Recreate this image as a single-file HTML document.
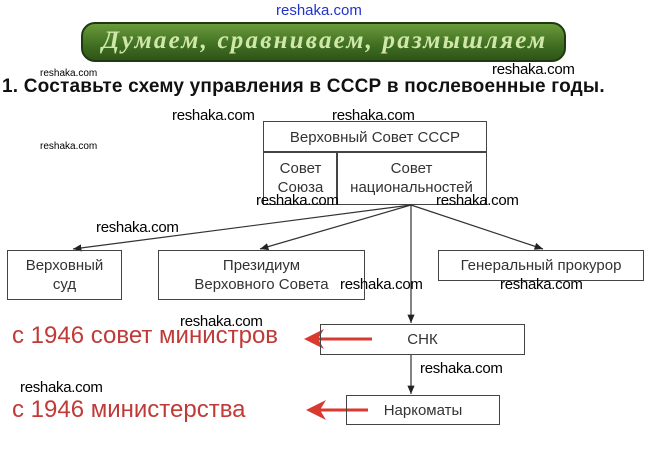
<!DOCTYPE html>
<html><head><meta charset="utf-8"><style>
html,body{margin:0;padding:0;background:#fff;}
body{width:648px;height:458px;position:relative;overflow:hidden;font-family:"Liberation Sans","DejaVu Sans",sans-serif;}
.a{position:absolute;white-space:nowrap;}
.w{font-size:15px;color:#000;font-family:"Liberation Sans",sans-serif;letter-spacing:-0.3px;}
.ws{font-size:10px;color:#000;}
.box{position:absolute;border:1.5px solid #444;box-sizing:border-box;color:#333;font-size:15px;text-align:center;line-height:19px;display:flex;align-items:center;justify-content:center;}
.red{color:#c03a38;font-size:24px;}
</style></head><body>
<div class="a" style="left:276px;top:2px;font-size:15px;color:#2233cc;">reshaka.com</div>
<div class="a" style="left:81px;top:22px;width:485px;height:40px;border-radius:14px;background:linear-gradient(#6a9a3a,#3f6e22 60%,#2f5418);border:2px solid #1e3a10;box-sizing:border-box;"></div>
<div class="a" style="left:102px;top:27px;font-family:'Liberation Serif',serif;font-style:italic;font-weight:bold;font-size:25px;color:#cfe8a8;letter-spacing:2.2px;">Думаем, сравниваем, размышляем</div>
<div class="a ws" style="left:40px;top:68px;">reshaka.com</div>
<div class="a w" style="left:492px;top:61px;">reshaka.com</div>
<div class="a" style="left:2px;top:76px;font-weight:bold;font-size:19px;color:#111;letter-spacing:0.2px;">1. Составьте схему управления в СССР в послевоенные годы.</div>
<div class="a w" style="left:172px;top:107px;">reshaka.com</div>
<div class="a w" style="left:332px;top:107px;">reshaka.com</div>
<div class="a ws" style="left:40px;top:141px;">reshaka.com</div>

<div class="box" style="left:263px;top:121px;width:224px;height:32px;">Верховный Совет СССР</div>
<div class="box" style="left:263px;top:151px;width:75px;height:54px;">Совет<br>Союза</div>
<div class="box" style="left:336px;top:151px;width:151px;height:54px;">Совет<br>национальностей</div>

<svg class="a" style="left:0;top:0;" width="648" height="458">
<defs><marker id="m" markerWidth="8" markerHeight="8" refX="7" refY="4" orient="auto"><path d="M0,1 L7,4 L0,7 z" fill="#222"/></marker></defs>
<g stroke="#333" stroke-width="1.2" fill="none">
<line x1="411" y1="205" x2="73" y2="249" marker-end="url(#m)"/>
<line x1="411" y1="205" x2="260" y2="249" marker-end="url(#m)"/>
<line x1="411" y1="205" x2="543" y2="249" marker-end="url(#m)"/>
<line x1="411" y1="205" x2="411" y2="323" marker-end="url(#m)"/>
<line x1="411" y1="354" x2="411" y2="394" marker-end="url(#m)"/>
</g>
<g stroke="#d83a30" stroke-width="3" fill="#d83a30">
<line x1="372" y1="339" x2="318" y2="339"/>
<path d="M304,339 L324,329 L318,339 L324,349 z" stroke="none"/>
<line x1="368" y1="410" x2="320" y2="410"/>
<path d="M306,410 L326,400 L320,410 L326,420 z" stroke="none"/>
</g>
</svg>

<div class="a w" style="left:256px;top:192px;">reshaka.com</div>
<div class="a w" style="left:436px;top:192px;">reshaka.com</div>
<div class="a w" style="left:96px;top:219px;">reshaka.com</div>

<div class="box" style="left:7px;top:250px;width:115px;height:50px;">Верховный<br>суд</div>
<div class="box" style="left:158px;top:250px;width:207px;height:50px;">Президиум<br>Верховного Совета</div>
<div class="box" style="left:438px;top:250px;width:206px;height:31px;">Генеральный прокурор</div>
<div class="a w" style="left:340px;top:276px;">reshaka.com</div>
<div class="a w" style="left:500px;top:276px;">reshaka.com</div>

<div class="a w" style="left:180px;top:313px;">reshaka.com</div>
<div class="a red" style="left:12px;top:322px;">с 1946 совет министров</div>
<div class="box" style="left:320px;top:324px;width:205px;height:31px;">СНК</div>
<div class="a w" style="left:420px;top:360px;">reshaka.com</div>
<div class="a w" style="left:20px;top:379px;">reshaka.com</div>
<div class="a red" style="left:12px;top:396px;">с 1946 министерства</div>
<div class="box" style="left:346px;top:395px;width:154px;height:30px;">Наркоматы</div>
</body></html>
